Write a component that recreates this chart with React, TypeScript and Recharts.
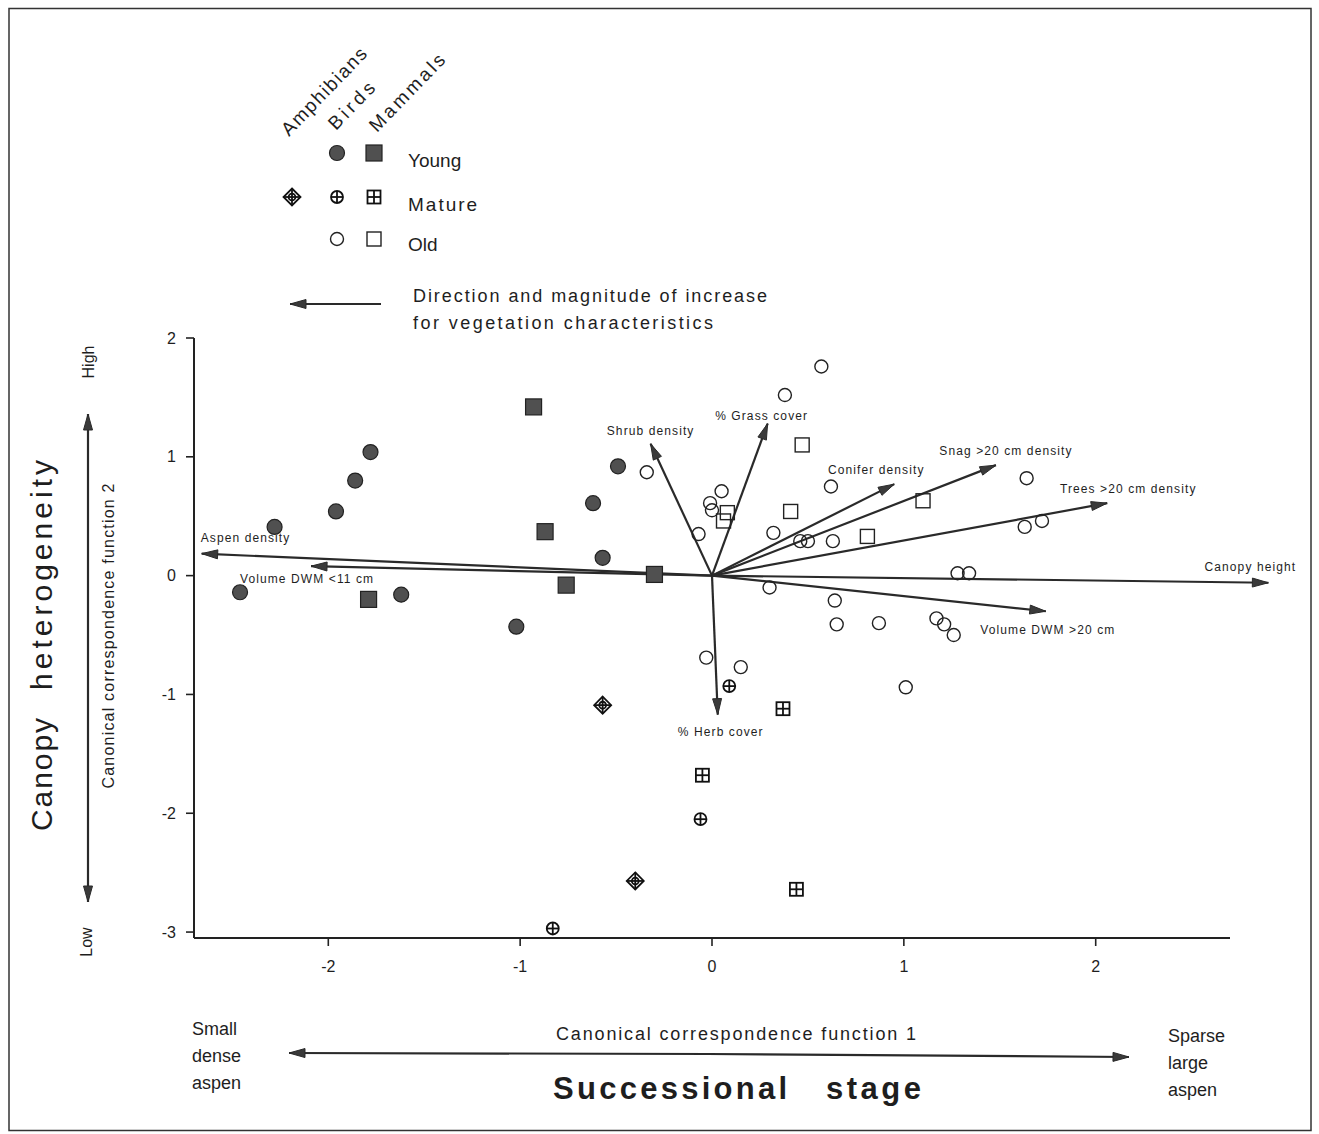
import { ReferenceLine, Scatter, ScatterChart, XAxis, YAxis } from "recharts"

// site scores by taxon and stand age (CCA function 1, function 2)
const youngBirds = [
  { x: -2.28, y: 0.41 },
  { x: -1.96, y: 0.54 },
  { x: -1.86, y: 0.8 },
  { x: -1.78, y: 1.04 },
  { x: -2.46, y: -0.14 },
  { x: -1.62, y: -0.16 },
  { x: -1.02, y: -0.43 },
  { x: -0.62, y: 0.61 },
  { x: -0.57, y: 0.15 },
  { x: -0.49, y: 0.92 },
]

const youngMammals = [
  { x: -0.93, y: 1.42 },
  { x: -0.87, y: 0.37 },
  { x: -1.79, y: -0.2 },
  { x: -0.76, y: -0.08 },
  { x: -0.3, y: 0.01 },
]

const matureAmphibians = [
  { x: -0.57, y: -1.09 },
  { x: -0.4, y: -2.57 },
]

const matureBirds = [
  { x: 0.09, y: -0.93 },
  { x: -0.06, y: -2.05 },
  { x: -0.83, y: -2.97 },
]

const matureMammals = [
  { x: 0.37, y: -1.12 },
  { x: -0.05, y: -1.68 },
  { x: 0.44, y: -2.64 },
]

const oldBirds = [
  { x: 0.57, y: 1.76 },
  { x: 0.38, y: 1.52 },
  { x: -0.34, y: 0.87 },
  { x: 0.05, y: 0.71 },
  { x: -0.01, y: 0.61 },
  { x: 0.0, y: 0.55 },
  { x: -0.07, y: 0.35 },
  { x: 0.62, y: 0.75 },
  { x: 1.64, y: 0.82 },
  { x: 0.32, y: 0.36 },
  { x: 0.46, y: 0.29 },
  { x: 0.5, y: 0.29 },
  { x: 0.63, y: 0.29 },
  { x: 1.63, y: 0.41 },
  { x: 1.72, y: 0.46 },
  { x: 1.28, y: 0.02 },
  { x: 1.34, y: 0.02 },
  { x: 0.3, y: -0.1 },
  { x: 0.64, y: -0.21 },
  { x: 0.65, y: -0.41 },
  { x: 0.87, y: -0.4 },
  { x: 1.17, y: -0.36 },
  { x: 1.21, y: -0.41 },
  { x: 1.26, y: -0.5 },
  { x: 1.01, y: -0.94 },
  { x: -0.03, y: -0.69 },
  { x: 0.15, y: -0.77 },
]

const oldMammals = [
  { x: 0.47, y: 1.1 },
  { x: 0.08, y: 0.53 },
  { x: 0.06, y: 0.46 },
  { x: 0.41, y: 0.54 },
  { x: 1.1, y: 0.63 },
  { x: 0.81, y: 0.33 },
]

// vegetation vectors (tip of arrow, origin at 0,0)
const vectors = [
  { name: "Aspen density", x: -2.66, y: 0.185 },
  { name: "Volume DWM <11 cm", x: -2.09, y: 0.08 },
  { name: "Shrub  density", x: -0.32, y: 1.11 },
  { name: "% Grass cover", x: 0.29, y: 1.28 },
  { name: "Conifer density", x: 0.95, y: 0.77 },
  { name: "Snag >20 cm density", x: 1.48, y: 0.93 },
  { name: "Trees >20 cm density", x: 2.06, y: 0.61 },
  { name: "Canopy  height", x: 2.9, y: -0.06 },
  { name: "Volume DWM >20 cm", x: 1.74, y: -0.3 },
  { name: "% Herb cover", x: 0.03, y: -1.17 },
]

const xTicks = [-2, -1, 0, 1, 2]
const yTicks = [-3, -2, -1, 0, 1, 2]

// label placement relative to each arrow tip, in pixels
const labelPlace: Record<string, [number, number, "start" | "middle" | "end"]> = {
  "Aspen density": [-1, -12, "start"],
  "Volume DWM <11 cm": [-71, 17, "start"],
  "Shrub  density": [0, -9, "middle"],
  "% Grass cover": [-6, -4, "middle"],
  "Conifer density": [-18, -10, "middle"],
  "Snag >20 cm density": [10, -10, "middle"],
  "Trees >20 cm density": [21, -10, "middle"],
  "Canopy  height": [-18, -12, "middle"],
  "Volume DWM >20 cm": [2, 23, "middle"],
  "% Herb cover": [3, 21, "middle"],
}

const font = "'Liberation Sans', Arial, Helvetica, sans-serif"
const ink = "#1e1e1e"
const grey = "#505050"

const FilledCircle = ({ cx, cy }: any) => <circle cx={cx} cy={cy} r={7.5} fill={grey} stroke="#222" strokeWidth={1.2} />
const FilledSquare = ({ cx, cy }: any) => (
  <rect x={cx - 8} y={cy - 8} width={16} height={16} fill={grey} stroke="#222" strokeWidth={1.2} />
)
const OpenCircle = ({ cx, cy }: any) => <circle cx={cx} cy={cy} r={6.5} fill="none" stroke="#222" strokeWidth={1.4} />
const OpenSquare = ({ cx, cy }: any) => (
  <rect x={cx - 7} y={cy - 7} width={14} height={14} fill="none" stroke="#222" strokeWidth={1.4} />
)
const CrossCircle = ({ cx, cy }: any) => (
  <g stroke="#111" strokeWidth={1.8} fill="none">
    <circle cx={cx} cy={cy} r={6} />
    <line x1={cx - 6} y1={cy} x2={cx + 6} y2={cy} />
    <line x1={cx} y1={cy - 6} x2={cx} y2={cy + 6} />
  </g>
)
const CrossSquare = ({ cx, cy }: any) => (
  <g stroke="#111" strokeWidth={1.8} fill="none">
    <rect x={cx - 6.5} y={cy - 6.5} width={13} height={13} />
    <line x1={cx - 6.5} y1={cy} x2={cx + 6.5} y2={cy} />
    <line x1={cx} y1={cy - 6.5} x2={cx} y2={cy + 6.5} />
  </g>
)
const CrossDiamond = ({ cx, cy }: any) => (
  <g stroke="#111" strokeWidth={1.8} fill="none">
    <polygon points={`${cx},${cy - 8.5} ${cx + 8.5},${cy} ${cx},${cy + 8.5} ${cx - 8.5},${cy}`} />
    <circle cx={cx} cy={cy} r={3.4} />
    <line x1={cx - 8.5} y1={cy} x2={cx + 8.5} y2={cy} />
    <line x1={cx} y1={cy - 8.5} x2={cx} y2={cy + 8.5} />
  </g>
)

const arrowHead = (x1: number, y1: number, x2: number, y2: number, len = 16, half = 4.5) => {
  const a = Math.atan2(y2 - y1, x2 - x1)
  const bx = x2 - len * Math.cos(a)
  const by = y2 - len * Math.sin(a)
  const px = -Math.sin(a) * half
  const py = Math.cos(a) * half
  return `${x2},${y2} ${bx + px},${by + py} ${bx - px},${by - py}`
}

const Arrow = ({ x1, y1, x2, y2 }: any) => (
  <g>
    <line x1={x1} y1={y1} x2={x2} y2={y2} stroke="#2a2a2a" strokeWidth={2.2} />
    <polygon points={arrowHead(x1, y1, x2, y2)} fill="#3a3a3a" stroke="#2a2a2a" strokeWidth={1} />
  </g>
)

function Overlay() {
  const txt = { fontFamily: font, fill: ink }
  return (
    <svg width={1319} height={1134} style={{ position: "absolute", left: 0, top: 0 }}>
      <rect x={9} y={8.5} width={1302} height={1122} fill="none" stroke="#333" strokeWidth={1.5} />

      {/* legend */}
      <text {...txt} fontSize={19} transform="rotate(-46 289 137)" x={289} y={137} textLength={114} lengthAdjust="spacing">
        Amphibians
      </text>
      <text {...txt} fontSize={19} transform="rotate(-46 336 131)" x={336} y={131} textLength={58} lengthAdjust="spacing">
        Birds
      </text>
      <text {...txt} fontSize={19} transform="rotate(-46 377 133)" x={377} y={133} textLength={100} lengthAdjust="spacing">
        Mammals
      </text>
      <FilledCircle cx={337} cy={153} />
      <FilledSquare cx={374} cy={153} />
      <CrossDiamond cx={292} cy={197} />
      <CrossCircle cx={337} cy={197} />
      <CrossSquare cx={374} cy={197} />
      <OpenCircle cx={337} cy={239} />
      <OpenSquare cx={374} cy={239} />
      <text {...txt} fontSize={19} x={408} y={167}>Young</text>
      <text {...txt} fontSize={19} x={408} y={211} letterSpacing={2}>Mature</text>
      <text {...txt} fontSize={19} x={408} y={251}>Old</text>
      <Arrow x1={381} y1={304} x2={290} y2={304} />
      <text {...txt} fontSize={18} x={413} y={302} textLength={354} lengthAdjust="spacing">
        Direction and magnitude of increase
      </text>
      <text {...txt} fontSize={18} x={413} y={329} textLength={300} lengthAdjust="spacing">
        for vegetation characteristics
      </text>

      {/* y axis titles */}
      <text {...txt} fontSize={30} transform="rotate(-90 52 831)" x={52} y={831} textLength={113} lengthAdjust="spacing">
        Canopy
      </text>
      <text {...txt} fontSize={30} transform="rotate(-90 52 690)" x={52} y={690} textLength={230} lengthAdjust="spacing">
        heterogeneity
      </text>
      <text {...txt} fontSize={16} textAnchor="middle" transform="rotate(-90 114 636)" x={114} y={636} textLength={305} lengthAdjust="spacing">
        Canonical correspondence function 2
      </text>
      <text {...txt} fontSize={16} textAnchor="middle" transform="rotate(-90 94 362)" x={94} y={362}>High</text>
      <text {...txt} fontSize={16} textAnchor="middle" transform="rotate(-90 92 942)" x={92} y={942}>Low</text>
      <Arrow x1={88} y1={660} x2={88} y2={414} />
      <Arrow x1={88} y1={660} x2={88} y2={902} />

      {/* x axis titles */}
      <text {...txt} fontSize={18} textAnchor="middle" x={736} y={1040} textLength={360} lengthAdjust="spacing">
        Canonical correspondence function 1
      </text>
      <Arrow x1={708} y1={1054} x2={289} y2={1053} />
      <Arrow x1={708} y1={1054} x2={1129} y2={1057} />
      <text {...txt} fontSize={31} fontWeight="bold" x={553} y={1099} textLength={234} lengthAdjust="spacing">
        Successional
      </text>
      <text {...txt} fontSize={31} fontWeight="bold" x={826} y={1099} textLength={95} lengthAdjust="spacing">
        stage
      </text>
      <text {...txt} fontSize={18}>
        <tspan x={192} y={1035}>Small</tspan>
        <tspan x={192} y={1062}>dense</tspan>
        <tspan x={192} y={1089}>aspen</tspan>
      </text>
      <text {...txt} fontSize={18}>
        <tspan x={1168} y={1042}>Sparse</tspan>
        <tspan x={1168} y={1069}>large</tspan>
        <tspan x={1168} y={1096}>aspen</tspan>
      </text>
    </svg>
  )
}

export default function App() {
  const tick = { fontFamily: font, fontSize: 16, fill: ink }
  return (
    <div style={{ position: "absolute", left: 0, top: 0, width: 1319, height: 1134, background: "#fff" }}>
      <Overlay />
      <div style={{ position: "absolute", left: 0, top: 0 }}>
        <ScatterChart width={1319} height={1134} margin={{ top: 338, right: 89, bottom: 156, left: 154 }}>
          <XAxis
            type="number"
            dataKey="x"
            domain={[-2.7, 2.7]}
            ticks={xTicks}
            allowDataOverflow
            height={40}
            tick={tick}
            tickSize={8}
            tickMargin={15}
            stroke="#222"
            axisLine={{ stroke: "#222", strokeWidth: 2 }}
            tickLine={{ stroke: "#222", strokeWidth: 1.6 }}
          />
          <YAxis
            type="number"
            dataKey="y"
            domain={[-3.05, 2]}
            ticks={yTicks}
            allowDataOverflow
            width={40}
            tick={tick}
            tickSize={8}
            tickMargin={10}
            stroke="#222"
            axisLine={{ stroke: "#222", strokeWidth: 2 }}
            tickLine={{ stroke: "#222", strokeWidth: 1.6 }}
          />
          {vectors.map((v) => {
            const [dx, dy, anchor] = labelPlace[v.name]
            return (
              <ReferenceLine
                key={v.name}
                segment={[{ x: 0, y: 0 }, { x: v.x, y: v.y }]}
                ifOverflow="visible"
                shape={(p: any) => (
                  <g>
                    <Arrow x1={p.x1} y1={p.y1} x2={p.x2} y2={p.y2} />
                    <text
                      x={p.x2 + dx}
                      y={p.y2 + dy}
                      textAnchor={anchor}
                      fontFamily={font}
                      fontSize={12}
                      letterSpacing={1.1}
                      fill={ink}
                    >
                      {v.name}
                    </text>
                  </g>
                )}
              />
            )
          })}
          <Scatter name="Young birds" data={youngBirds} shape={(p: any) => <FilledCircle {...p} />} isAnimationActive={false} />
          <Scatter name="Young mammals" data={youngMammals} shape={(p: any) => <FilledSquare {...p} />} isAnimationActive={false} />
          <Scatter name="Mature amphibians" data={matureAmphibians} shape={(p: any) => <CrossDiamond {...p} />} isAnimationActive={false} />
          <Scatter name="Mature birds" data={matureBirds} shape={(p: any) => <CrossCircle {...p} />} isAnimationActive={false} />
          <Scatter name="Mature mammals" data={matureMammals} shape={(p: any) => <CrossSquare {...p} />} isAnimationActive={false} />
          <Scatter name="Old birds" data={oldBirds} shape={(p: any) => <OpenCircle {...p} />} isAnimationActive={false} />
          <Scatter name="Old mammals" data={oldMammals} shape={(p: any) => <OpenSquare {...p} />} isAnimationActive={false} />
        </ScatterChart>
      </div>
    </div>
  )
}
